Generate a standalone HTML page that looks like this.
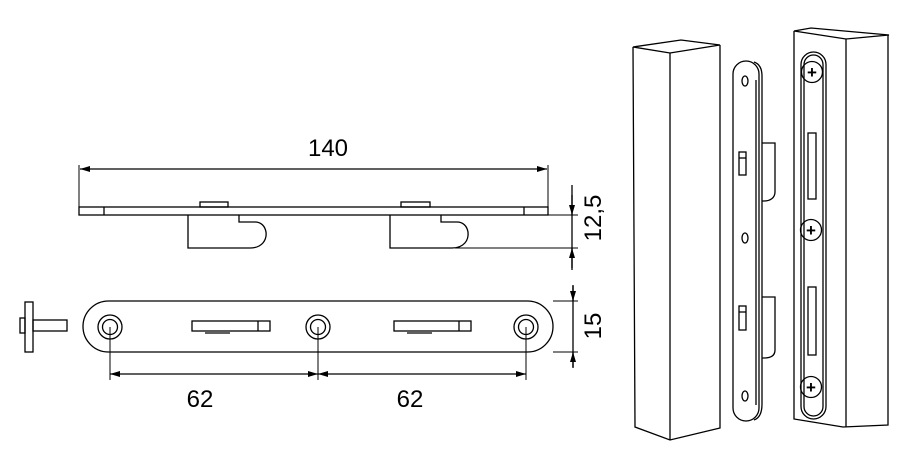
<!DOCTYPE html>
<html><head><meta charset="utf-8"><style>
html,body{margin:0;padding:0;background:#fff;width:917px;height:467px;overflow:hidden}
svg{display:block}
text{font-family:"Liberation Sans",Arial,sans-serif;font-size:24px;fill:#000}
</style></head><body>
<svg width="917" height="467" viewBox="0 0 917 467" xmlns="http://www.w3.org/2000/svg">
<defs>
<marker id="a" viewBox="0 0 10 6" refX="10" refY="3" markerWidth="14" markerHeight="6" markerUnits="userSpaceOnUse" orient="auto-start-reverse"><path d="M0,0L10,3L0,6z" fill="#000"/></marker>
</defs>
<g fill="none" stroke="#000" stroke-width="1.3">
<line x1="79" y1="165" x2="79" y2="210" stroke-width="1"/>
<line x1="548" y1="165" x2="548" y2="210" stroke-width="1"/>
<line x1="80" y1="169" x2="547" y2="169" marker-start="url(#a)" marker-end="url(#a)"/>
<rect x="79" y="207" width="469" height="8"/>
<line x1="104" y1="207" x2="104" y2="215"/>
<line x1="524" y1="207" x2="524" y2="215"/>
<rect x="200" y="202" width="28" height="5"/>
<rect x="401" y="202" width="29" height="5"/>
<path d="M188,215V248H250C262,248 267,240 266,232C265,226 261,222 255,222H239V215"/>
<path d="M390,215V248H452C464,248 469,240 468,232C467,226 463,222 457,222H441V215"/>
<line x1="548" y1="215" x2="578" y2="215" stroke-width="1"/>
<line x1="455" y1="248" x2="578" y2="248" stroke-width="1"/>
<line x1="572" y1="185" x2="572" y2="270"/>
<line x1="572" y1="195" x2="572" y2="215" marker-end="url(#a)"/>
<line x1="572" y1="268" x2="572" y2="248" marker-end="url(#a)"/>
<rect x="83" y="301" width="470" height="51" rx="25.5"/>
<circle cx="110" cy="327" r="12"/><circle cx="110" cy="327" r="7.5"/>
<circle cx="318" cy="327" r="12"/><circle cx="318" cy="327" r="7.5"/>
<circle cx="526" cy="327" r="12"/><circle cx="526" cy="327" r="7.5"/>
<rect x="192" y="321" width="78" height="10"/><line x1="258" y1="321" x2="258" y2="331"/><line x1="205" y1="333" x2="230" y2="333"/>
<rect x="394" y="321" width="77" height="10"/><line x1="459" y1="321" x2="459" y2="331"/><line x1="407" y1="333" x2="432" y2="333"/>
<rect x="25" y="302" width="8" height="50"/>
<rect x="20" y="318" width="5" height="15"/>
<rect x="33" y="320" width="34" height="11"/>
<line x1="553" y1="301" x2="578" y2="301" stroke-width="1"/>
<line x1="553" y1="352" x2="578" y2="352" stroke-width="1"/>
<line x1="573" y1="285" x2="573" y2="368"/>
<line x1="573" y1="286" x2="573" y2="301" marker-end="url(#a)"/>
<line x1="573" y1="367" x2="573" y2="352" marker-end="url(#a)"/>
<line x1="110" y1="327" x2="110" y2="380" stroke-width="1"/>
<line x1="318" y1="327" x2="318" y2="380" stroke-width="1"/>
<line x1="526" y1="327" x2="526" y2="380" stroke-width="1"/>
<line x1="110" y1="374" x2="318" y2="374" marker-start="url(#a)" marker-end="url(#a)"/>
<line x1="318" y1="374" x2="526" y2="374" marker-start="url(#a)" marker-end="url(#a)"/>
<path d="M633,47L681,40L720,45L670,53Z"/>
<path d="M633,47L635,427L670,440L720,428L720,45"/>
<line x1="670" y1="53" x2="670" y2="440"/>
<rect x="733" y="61" width="26" height="360" rx="13"/>
<path d="M754,62C760,64 762,70 762,76V404C762,412 760,418 754,420"/>
<line x1="756" y1="80" x2="756" y2="405"/>
<ellipse cx="745" cy="81" rx="3" ry="5"/>
<ellipse cx="745" cy="238" rx="3" ry="5"/>
<ellipse cx="745" cy="396" rx="3" ry="5"/>
<path d="M762,143H775V192C775,198 770,201 764,201H762"/>
<path d="M762,297H775V350C775,356 770,358 764,358H762"/>
<rect x="739" y="152" width="7" height="23"/><line x1="739" y1="158" x2="746" y2="158"/>
<rect x="739" y="306" width="7" height="24"/><line x1="739" y1="312" x2="746" y2="312"/>
<path d="M794,31L811,28L889,35L846,39Z"/>
<path d="M794,31V419L843,427L888,425V35"/>
<line x1="846" y1="39" x2="846" y2="427"/>
<rect x="801" y="52" width="25" height="367" rx="12.5"/>
<rect x="804" y="55" width="19" height="361" rx="9.5"/>
<circle cx="812" cy="72" r="10.5"/><circle cx="811" cy="230" r="10.5"/><circle cx="811" cy="387" r="10.5"/>
<rect x="808" y="133" width="8" height="66"/>
<rect x="808" y="287" width="8" height="68"/>
</g>
<g text-anchor="middle" style="font-size:16px;font-weight:bold">
<text x="812" y="78" style="font-size:17px">+</text>
<text x="811" y="236" style="font-size:17px">+</text>
<text x="811" y="393" style="font-size:17px">+</text>
</g>
<text x="328" y="156" text-anchor="middle">140</text>
<text x="200" y="407" text-anchor="middle">62</text>
<text x="410" y="407" text-anchor="middle">62</text>
<text transform="translate(601,218) rotate(-90)" text-anchor="middle">12,5</text>
<text transform="translate(601,326) rotate(-90)" text-anchor="middle">15</text>
</svg>
</body></html>
